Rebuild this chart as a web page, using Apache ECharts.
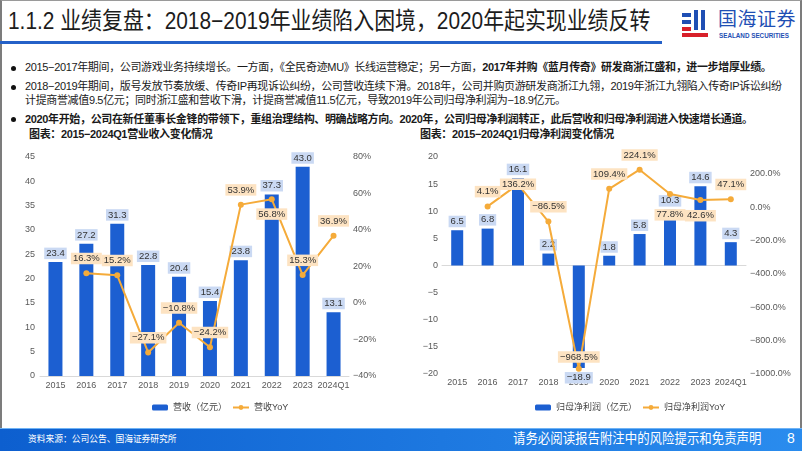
<!DOCTYPE html>
<html>
<head>
<meta charset="utf-8">
<script src="https://cdn.jsdelivr.net/npm/echarts@6/dist/echarts.min.js"></script>
<style>
  html, body { margin:0; padding:0; }
  body { width:802px; height:451px; overflow:hidden; background:#fff; position:relative;
         font-family:"Liberation Sans","Noto Sans CJK SC",sans-serif; color:#1a1a1a; }
  .abs { position:absolute; white-space:nowrap; }
  #frame { left:0; top:0; width:802px; height:428px; box-sizing:border-box;
           border-left:2px solid #7c7c7c; border-right:2px solid #7c7c7c; border-top:1px solid #9a9a9a; }
  #title { left:8px; top:6px; font-size:24px; line-height:30px; transform:scaleX(0.87); transform-origin:left center; color:#1c1c1c; }
  #tline { left:0; top:41px; width:662px; height:3px; background:#2461c8; }
  .bul { font-size:11px; line-height:13px; letter-spacing:-0.35px; color:#1a1a1a; }
  .dot { position:absolute; width:5px; height:5px; border-radius:50%; background:#111; }
  .ctitle { font-size:11px; font-weight:bold; letter-spacing:-0.35px; color:#1a1a1a; }
  #footer { left:0; top:428px; width:802px; height:23px; background:linear-gradient(to right,#0d5fcf,#1d78e0 55%,#2a8cee); border-top:1px solid #6fb3f5; box-sizing:border-box; }
  #chart { position:absolute; left:0; top:0; width:802px; height:451px; }
</style>
</head>
<body>
<script>
// ---- data ----
const categories = ['2015','2016','2017','2018','2019','2020','2021','2022','2023','2024Q1'];
const revenue = [23.4, 27.2, 31.3, 22.8, 20.4, 15.4, 23.8, 37.3, 43.0, 13.1];
const revenueYoY = [null, 16.3, 15.2, -27.1, -10.8, -24.2, 53.9, 56.8, 15.3, 36.9];
const netProfit = [6.5, 6.8, 16.1, 2.2, -18.9, 1.8, 5.8, 10.3, 14.6, 4.3];
const netProfitYoY = [null, 4.1, 136.2, -86.5, -968.5, 109.4, 224.1, 77.8, 42.6, 47.1];
const revTicks = [0, 45, 5];
const revYoYTicks = [-40, 80, 20];
const npTicks = [-20, 20, 5];
const npYoYTicks = [-1000, 300, 100];
</script>
<div id="frame" class="abs"></div>
<div id="title" class="abs">1.1.2 业绩复盘：2018−2019年业绩陷入困境，2020年起实现业绩反转</div>
<div id="tline" class="abs"></div>
<div class="abs" style="left:680px;top:10px;width:32px;height:28px;">
  <div class="abs" style="left:2px;top:3px;width:9px;height:4px;background:#1f4fb4;"></div>
  <div class="abs" style="left:2px;top:10px;width:9px;height:4px;background:#1f4fb4;"></div>
  <div class="abs" style="left:14px;top:0px;width:4px;height:20px;background:#1f4fb4;"></div>
  <div class="abs" style="left:21px;top:0px;width:4px;height:20px;background:#1f4fb4;"></div>
  <div class="abs" style="left:2px;top:17px;width:9px;height:4px;background:#d8202a;"></div>
  <div class="abs" style="left:2px;top:23px;width:26px;height:4px;background:#d8202a;"></div>
</div>
<div class="abs" style="left:718px;top:9px;font-size:19px;line-height:22px;color:#1f4fb4;letter-spacing:0.5px;">国海证券</div>
<div class="abs" style="left:719px;top:32px;font-size:6.3px;line-height:8px;font-weight:bold;color:#1f4fb4;">SEALAND SECURITIES</div>

<div class="dot" style="left:11px;top:66px;"></div>
<div class="abs bul" style="left:25px;top:61px;">2015−2017年期间，公司游戏业务持续增长。一方面，《全民奇迹MU》长线运营稳定；另一方面，<b>2017年并购《蓝月传奇》研发商浙江盛和，进一步增厚业绩。</b></div>
<div class="dot" style="left:11px;top:85px;"></div>
<div class="abs bul" style="left:25px;top:80px;">2018−2019年期间，版号发放节奏放缓、传奇IP再现诉讼纠纷，公司营收连续下滑。2018年，公司并购页游研发商浙江九翎，2019年浙江九翎陷入传奇IP诉讼纠纷</div>
<div class="abs bul" style="left:25px;top:94px;">计提商誉减值9.5亿元；同时浙江盛和营收下滑，计提商誉减值11.5亿元，导致2019年公司归母净利润为−18.9亿元。</div>
<div class="dot" style="left:11px;top:117px;"></div>
<div class="abs bul" style="left:25px;top:113px;"><b>2020年开始，公司在新任董事长金锋的带领下，重组治理结构、明确战略方向。2020年，公司归母净利润转正，此后营收和归母净利润进入快速增长通道。</b></div>

<div class="abs ctitle" style="left:29px;top:125px;">图表：2015−2024Q1营业收入变化情况</div>
<div class="abs ctitle" style="left:420px;top:125px;">图表：2015−2024Q1归母净利润变化情况</div>

<div id="footer" class="abs"></div>
<div class="abs" style="left:28px;top:433px;font-size:9.5px;line-height:12px;color:#fff;transform:scaleX(0.92);transform-origin:left center;">资料来源：公司公告、国海证券研究所</div>
<div class="abs" style="left:513px;top:430px;font-size:13.5px;line-height:17px;color:#fff;transform:scaleX(0.92);transform-origin:left center;">请务必阅读报告附注中的风险提示和免责声明</div>
<div class="abs" style="left:787px;top:430px;font-size:14px;line-height:17px;color:#fff;">8</div>

<div id="chart"></div>
<script>
const FONT = "'Liberation Sans Narrow','Liberation Sans','Noto Sans CJK SC',sans-serif";
const BAR = '#1c5fd1';
const LINE = '#f5ab3a';
const fixMinus = s => String(s).replace(/-/g, '\u2212');
const barLabel = { show:true, position:'top', distance:3, fontSize:9.5, fontFamily:FONT, color:'#333',
  backgroundColor:'#cad9f3', padding:[1,2], formatter: p => fixMinus(p.value.toFixed(1)) };
const lineLabelBase = { show:true, position:'top', distance:6, fontSize:9.5, fontFamily:FONT, color:'#333',
  backgroundColor:'#fde3c2', padding:[1,2], formatter: p => p.value == null ? '' : fixMinus(p.value.toFixed(1)) + '%' };

// per-point label placement (style only)
const revLabelPlace = { 7: { position:'bottom', distance:6 } };
const npLabelPlace = { 2: { position:'inside' }, 4: { distance:3 }, 7: { position:'bottom', distance:12 }, 8: { position:'bottom', distance:7 } };

const axisText = { fontSize:9, fontFamily:FONT, color:'#595959' };

const chart = echarts.init(document.getElementById('chart'), null, { renderer:'canvas' });
chart.setOption({
  animation:false,
  textStyle:{ fontFamily:FONT },
  grid:[
    { left:40, top:157, width:309, height:219 },
    { left:442, top:157, width:304, height:217 }
  ],
  legend:[
    { left:147, top:398, itemWidth:16, itemHeight:6, itemGap:5, textStyle:{ fontSize:9, color:'#444', fontFamily:FONT },
      data:['营收（亿元）','营收YoY'] },
    { left:530, top:398, itemWidth:16, itemHeight:6, itemGap:5, textStyle:{ fontSize:9, color:'#444', fontFamily:FONT },
      data:['归母净利润（亿元）','归母净利润YoY'] }
  ],
  xAxis:[
    { type:'category', gridIndex:0, data:categories, axisTick:{show:false},
      axisLine:{ lineStyle:{ color:'#d9d9d9' } }, axisLabel:Object.assign({ margin:5, interval:0 }, axisText) },
    { type:'category', gridIndex:1, data:categories, axisTick:{show:false},
      axisLine:{ onZero:true, onZeroAxisIndex:2, lineStyle:{ color:'#d9d9d9' } }, axisLabel:Object.assign({ margin:4, interval:0 }, axisText) }
  ],
  yAxis:[
    { type:'value', gridIndex:0, min:revTicks[0], max:revTicks[1], interval:revTicks[2],
      splitLine:{show:false}, axisLine:{show:false}, axisTick:{show:false},
      axisLabel:Object.assign({ margin:5, formatter: v => fixMinus(v) }, axisText) },
    { type:'value', gridIndex:0, position:'right', min:revYoYTicks[0], max:revYoYTicks[1], interval:revYoYTicks[2],
      splitLine:{show:false}, axisLine:{show:false}, axisTick:{show:false},
      axisLabel:Object.assign({ margin:4, formatter: v => fixMinus(v) + '%' }, axisText) },
    { type:'value', gridIndex:1, min:npTicks[0], max:npTicks[1], interval:npTicks[2],
      splitLine:{show:false}, axisLine:{show:false}, axisTick:{show:false},
      axisLabel:Object.assign({ margin:4, formatter: v => fixMinus(v) }, axisText) },
    { type:'value', gridIndex:1, position:'right', min:npYoYTicks[0], max:npYoYTicks[1], interval:npYoYTicks[2],
      splitLine:{show:false}, axisLine:{show:false}, axisTick:{show:false},
      axisLabel:Object.assign({ margin:4, formatter: v => (v % 200 === 0 && v <= 200) ? fixMinus(v.toFixed(1)) + '%' : '' }, axisText) }
  ],
  series:[
    { name:'营收（亿元）', type:'bar', xAxisIndex:0, yAxisIndex:0, barWidth:14, itemStyle:{ color:BAR },
      label:barLabel, data:revenue, z:2 },
    { name:'营收YoY', type:'line', xAxisIndex:0, yAxisIndex:1, symbol:'circle', symbolSize:6,
      lineStyle:{ color:LINE, width:2 }, itemStyle:{ color:LINE }, label:lineLabelBase, z:3,
      data: revenueYoY.map((v,i) => revLabelPlace[i] ? { value:v, label:revLabelPlace[i] } : v) },
    { name:'归母净利润（亿元）', type:'bar', xAxisIndex:1, yAxisIndex:2, barWidth:12, itemStyle:{ color:BAR },
      label:barLabel, z:2,
      data: netProfit.map(v => v < 0 ? { value:v, label:{ position:'bottom', distance:4 } } : v) },
    { name:'归母净利润YoY', type:'line', xAxisIndex:1, yAxisIndex:3, symbol:'circle', symbolSize:6,
      lineStyle:{ color:LINE, width:2 }, itemStyle:{ color:LINE }, label:lineLabelBase, z:3,
      data: netProfitYoY.map((v,i) => npLabelPlace[i] ? { value:v, label:npLabelPlace[i] } : v) }
  ]
});
</script>
</body>
</html>
